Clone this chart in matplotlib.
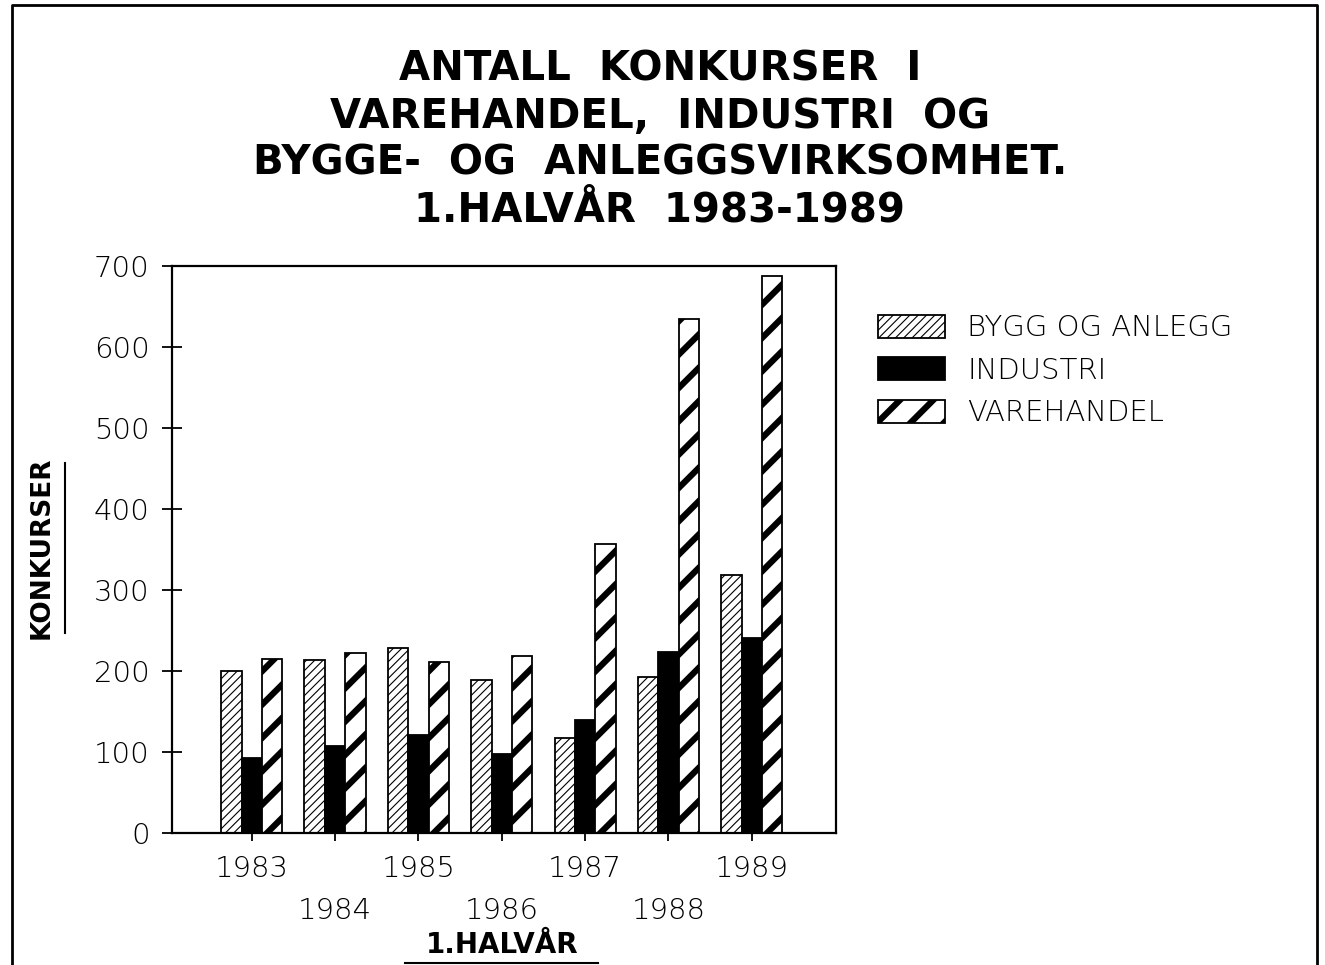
import numpy as np
import matplotlib
matplotlib.use("Agg")
import matplotlib.pyplot as plt
from matplotlib.lines import Line2D

# 1st half-year bankruptcies
years = ["1983", "1984", "1985", "1986", "1987", "1988", "1989"]
bygg = [200, 213, 228, 189, 117, 192, 318]
industri = [93, 107, 121, 98, 139, 223, 241]
varehandel = [215, 222, 211, 218, 357, 635, 688]
series_names = ["BYGG OG ANLEGG", "INDUSTRI", "VAREHANDEL"]

title = ("ANTALL  KONKURSER  I\nVAREHANDEL,  INDUSTRI  OG\n"
         "BYGGE-  OG  ANLEGGSVIRKSOMHET.\n1.HALVÅR  1983-1989")

W, H = 1325, 965
fig = plt.figure(figsize=(W / 100, H / 100), dpi=100)
fig.patch.set_facecolor("white")


def fx(px):
    return px / W


def fy(py):
    return 1 - py / H


ax = fig.add_axes([fx(172), fy(833), fx(836) - fx(172), fy(266) - fy(833)])

x = np.arange(len(years))
w = 0.245
thin = dict(family="DejaVu Sans", weight="light")


def set_hlw(patches, lw):
    for p in patches:
        if hasattr(p, "set_hatch_linewidth"):
            p.set_hatch_linewidth(lw)


b1 = ax.bar(x - w, bygg, w, facecolor="white", edgecolor="black",
            linewidth=1.3, hatch="////")
b2 = ax.bar(x, industri, w, facecolor="black", edgecolor="black",
            linewidth=1.3)
b3 = ax.bar(x + w, varehandel, w, facecolor="white", edgecolor="black",
            linewidth=1.3, hatch="/")
set_hlw(b1.patches, 0.8)
set_hlw(b3.patches, 4.5)

ax.set_xlim(-0.957, 7.01)
ax.set_ylim(0, 700)
ax.set_yticks(np.arange(0, 701, 100))
ax.set_yticklabels([str(v) for v in range(0, 701, 100)], **thin, fontsize=21)
ax.set_xticks(x)
ax.set_xticklabels([y if i % 2 == 0 else "\n" + y for i, y in enumerate(years)],
                   **thin, fontsize=21, linespacing=1.62)
ax.tick_params(axis="y", direction="inout", length=14, width=1.3, pad=9)
ax.tick_params(axis="x", direction="out", length=6, width=1.3, pad=10)
for s in ax.spines.values():
    s.set_linewidth(1.6)

# axis titles with underline
fig.text(fx(502), fy(945), "1.HALVÅR", ha="center", va="center",
         fontsize=20, fontweight="bold", family="DejaVu Sans")
fig.add_artist(Line2D([fx(405), fx(598)], [fy(963), fy(963)], color="black", lw=1.5))
fig.text(fx(42), fy(548), "KONKURSER", ha="center", va="center", rotation=90,
         fontsize=19, fontweight="bold",
         family=["Liberation Sans Narrow", "DejaVu Sans"])
fig.add_artist(Line2D([fx(65), fx(65)], [fy(463), fy(633)], color="black", lw=1.5))

fig.text(fx(660), fy(140), title, ha="center", va="center", fontsize=29,
         fontweight="bold", family="DejaVu Sans", linespacing=1.22)

leg = fig.legend([b1, b2, b3], series_names, loc="upper left",
                 bbox_to_anchor=(fx(852), fy(288)), frameon=False,
                 prop=dict(family="DejaVu Sans", weight="light", size=21),
                 handlelength=2.3, handleheight=0.85, labelspacing=0.5,
                 handletextpad=0.75)
set_hlw(leg.legend_handles[:1], 0.8)
set_hlw(leg.legend_handles[2:], 4.5)

# page frame
fig.add_artist(Line2D([fx(12), fx(12), fx(1317), fx(1317)],
                      [0, fy(5), fy(5), 0], color="black", lw=2))

fig.savefig("out.png", dpi=100)
